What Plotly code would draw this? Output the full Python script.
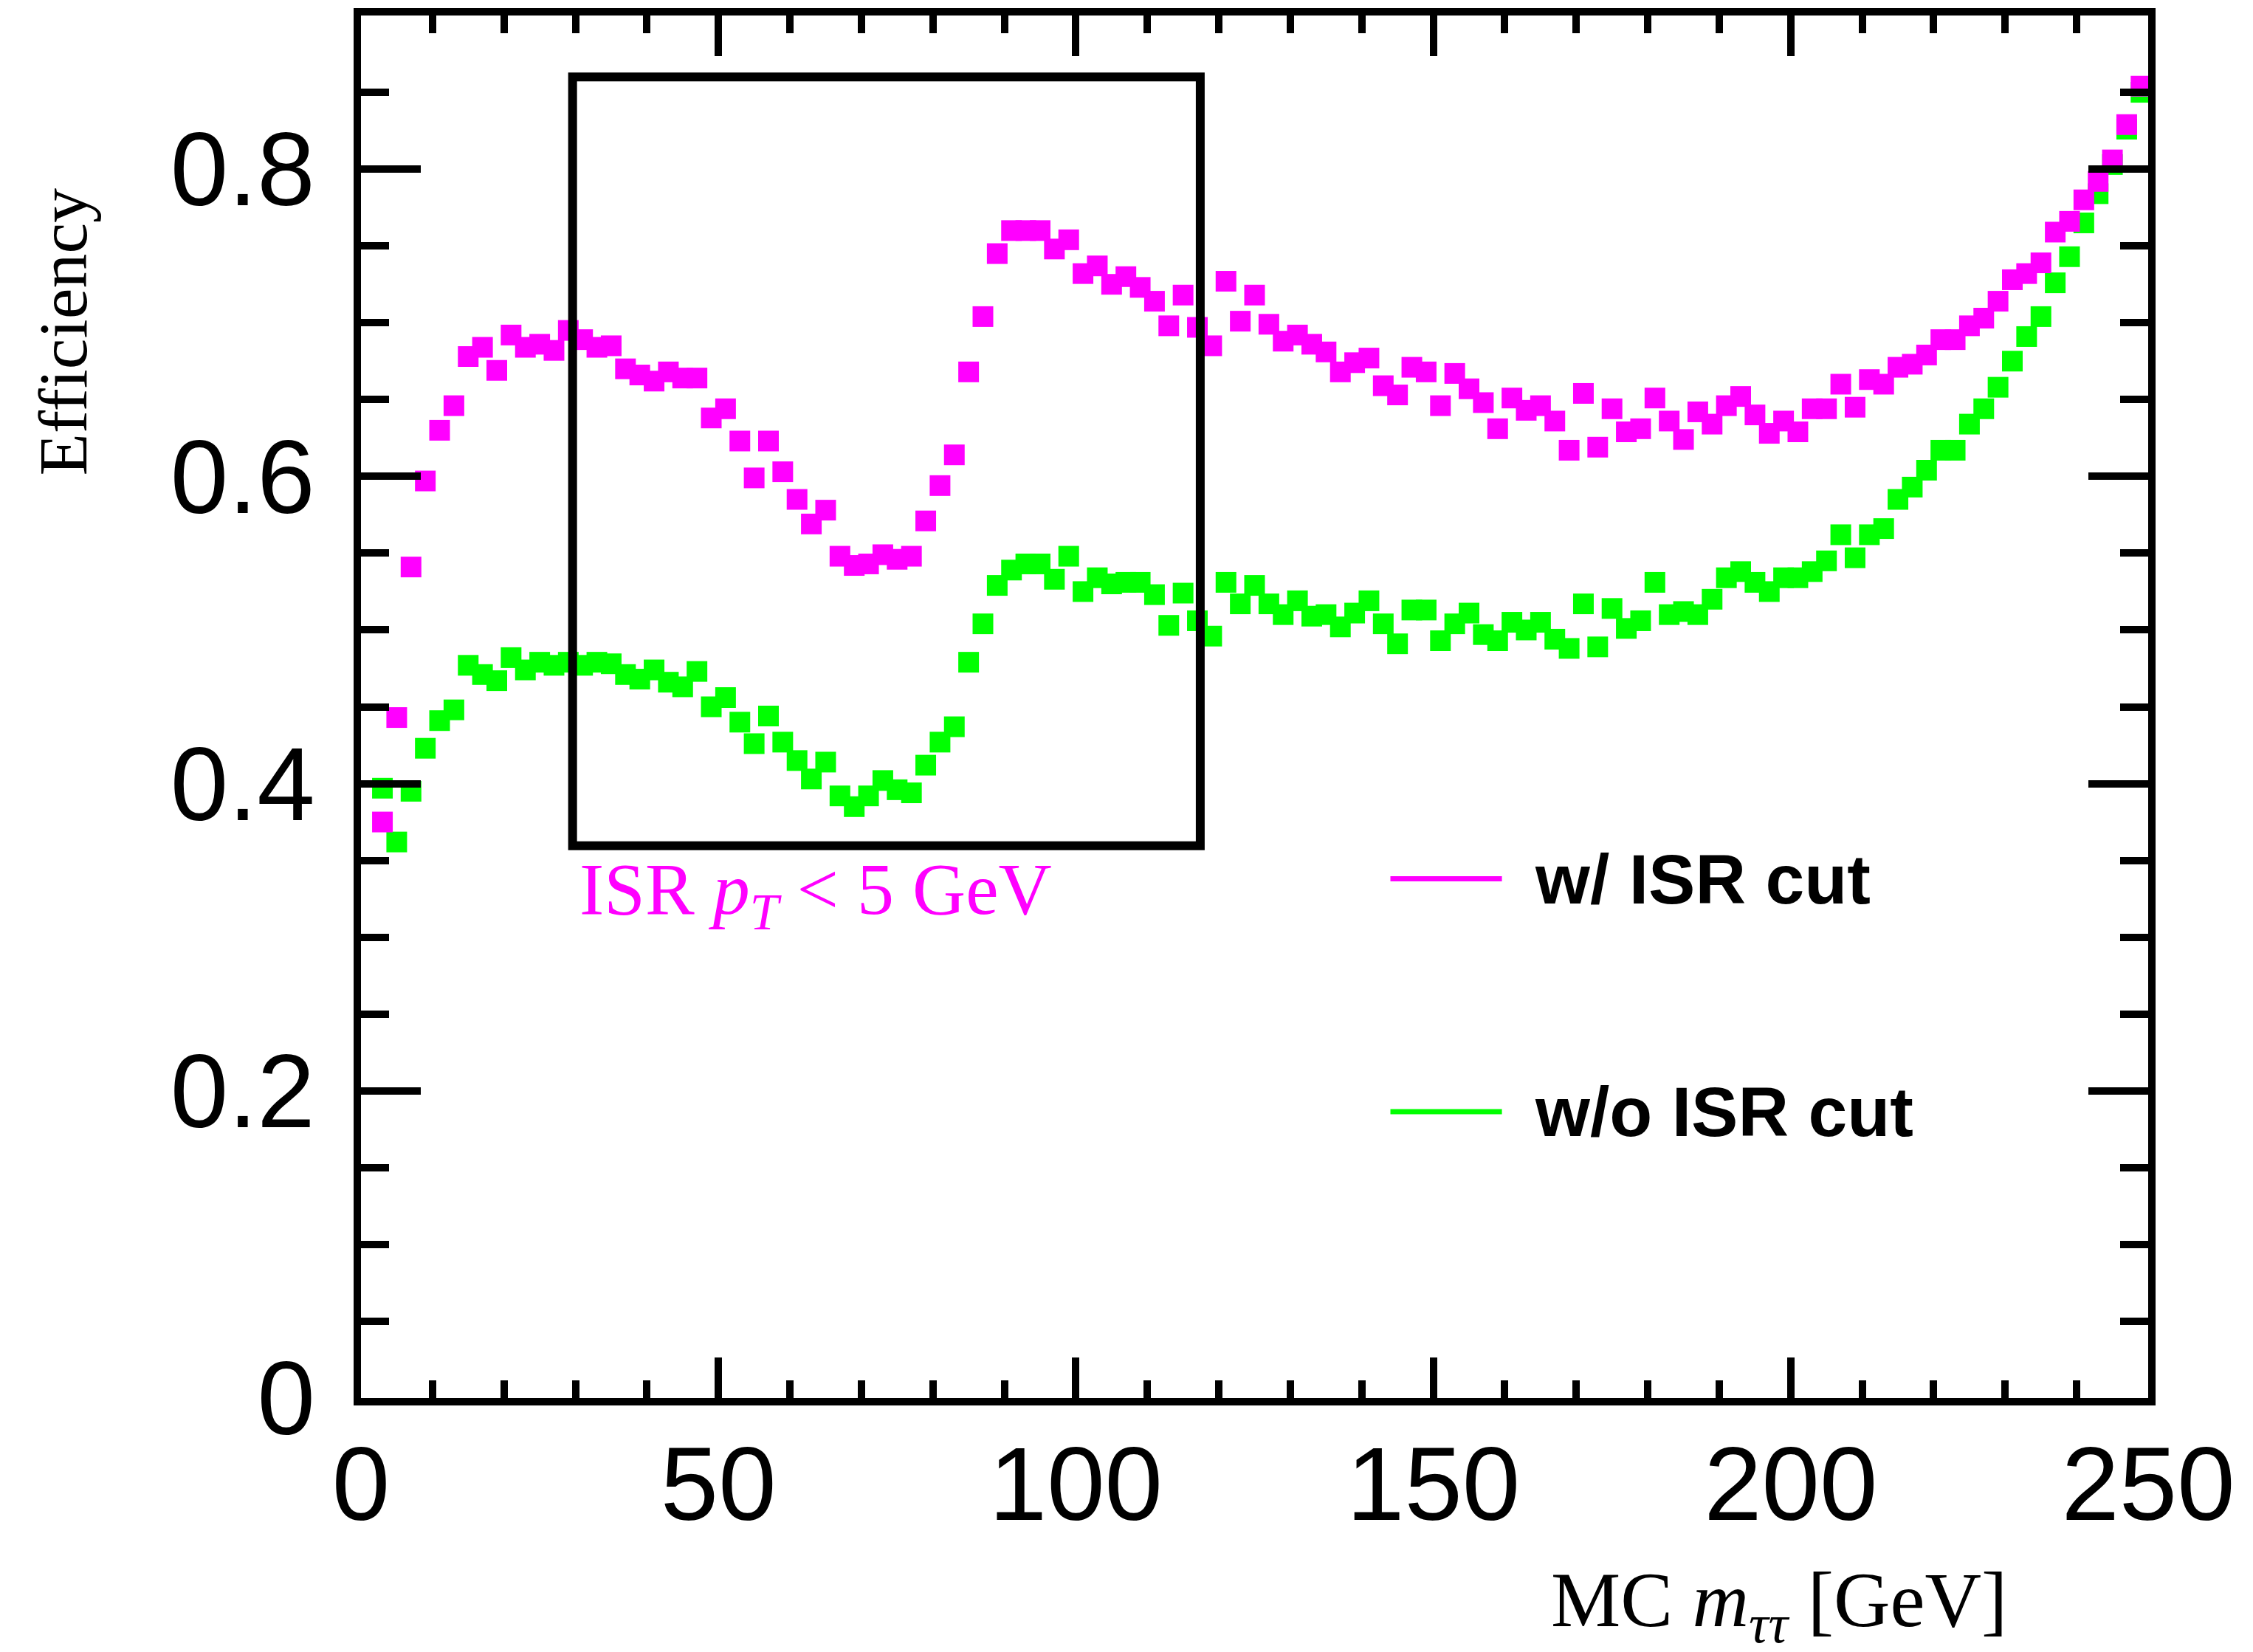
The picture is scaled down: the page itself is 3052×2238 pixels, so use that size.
import plotly.graph_objects as go

# Bin centres (2 GeV bins) of the MC m_tautau distribution
mass = list(range(3, 251, 2))

eff_with_isr_cut = [
    0.375, 0.443, 0.541, 0.597, 0.630, 0.646, 0.678, 0.684, 0.669, 0.692,
    0.684, 0.686, 0.682, 0.695, 0.689, 0.684, 0.685, 0.670, 0.666, 0.662,
    0.668, 0.664, 0.664, 0.638, 0.644, 0.623, 0.599, 0.623, 0.603, 0.585,
    0.569, 0.578, 0.548, 0.542, 0.543, 0.549, 0.546, 0.548, 0.571, 0.594,
    0.614, 0.668, 0.704, 0.745, 0.760, 0.760, 0.760, 0.748, 0.754, 0.732,
    0.737, 0.725, 0.730, 0.723, 0.714, 0.698, 0.718, 0.697, 0.685, 0.727,
    0.701, 0.718, 0.699, 0.688, 0.692, 0.686, 0.681, 0.668, 0.674, 0.677,
    0.659, 0.653, 0.671, 0.668, 0.646, 0.667, 0.657, 0.648, 0.631, 0.651,
    0.643, 0.646, 0.636, 0.617, 0.654, 0.619, 0.644, 0.629, 0.631, 0.651,
    0.636, 0.624, 0.642, 0.634, 0.646, 0.652, 0.640, 0.628, 0.636, 0.629,
    0.644, 0.644, 0.660, 0.645, 0.663, 0.660, 0.671, 0.673, 0.679, 0.689,
    0.689, 0.698, 0.703, 0.714, 0.728, 0.732, 0.739, 0.759, 0.766, 0.780,
    0.792, 0.806, 0.829, 0.854,
]

eff_without_isr_cut = [
    0.397, 0.362, 0.395, 0.423, 0.441, 0.448, 0.477, 0.471, 0.467, 0.482,
    0.474, 0.479, 0.477, 0.479, 0.477, 0.479, 0.478, 0.471, 0.468, 0.474,
    0.466, 0.463, 0.473, 0.450, 0.456, 0.440, 0.426, 0.444, 0.427, 0.415,
    0.403, 0.414, 0.392, 0.385, 0.392, 0.402, 0.396, 0.394, 0.412, 0.427,
    0.437, 0.479, 0.504, 0.529, 0.539, 0.543, 0.543, 0.533, 0.548, 0.525,
    0.534, 0.530, 0.531, 0.531, 0.523, 0.503, 0.524, 0.506, 0.496, 0.531,
    0.517, 0.529, 0.517, 0.510, 0.519, 0.509, 0.510, 0.502, 0.511, 0.519,
    0.504, 0.491, 0.513, 0.513, 0.493, 0.504, 0.511, 0.497, 0.493, 0.505,
    0.500, 0.505, 0.494, 0.488, 0.517, 0.489, 0.514, 0.501, 0.506, 0.531,
    0.510, 0.512, 0.510, 0.520, 0.534, 0.538, 0.531, 0.525, 0.534, 0.534,
    0.538, 0.545, 0.562, 0.547, 0.562, 0.566, 0.585, 0.593, 0.604, 0.617,
    0.617, 0.634, 0.644, 0.658, 0.675, 0.691, 0.704, 0.726, 0.743, 0.765,
    0.784, 0.803, 0.826, 0.850,
]

x_tick_vals = [0, 50, 100, 150, 200, 250]
y_tick_vals = [0, 0.2, 0.4, 0.6, 0.8]
y_tick_text = ["0", "0.2", "0.4", "0.6", "0.8"]

MAGENTA = "#FF00FF"
GREEN = "#00FF00"
SANS = "Liberation Sans, Arial, Helvetica, sans-serif"
SERIF = "Liberation Serif, Times New Roman, serif"

fig = go.Figure()
fig.add_trace(go.Scatter(
    x=mass, y=eff_without_isr_cut, mode="markers", name="w/o ISR cut",
    marker=dict(symbol="square", size=28, color=GREEN, line=dict(width=0)),
    showlegend=False,
))
fig.add_trace(go.Scatter(
    x=mass, y=eff_with_isr_cut, mode="markers", name="w/ ISR cut",
    marker=dict(symbol="square", size=28, color=MAGENTA, line=dict(width=0)),
    showlegend=False,
))

axis_common = dict(
    showline=True, linewidth=10, linecolor="black", mirror="allticks",
    ticks="inside", tickcolor="black", tickwidth=10,
    showgrid=False, zeroline=False,
    tickfont=dict(family=SANS, size=141, color="black"),
)

fig.update_xaxes(
    range=[0, 250], tickvals=x_tick_vals, ticklen=55,
    minor=dict(dtick=10, ticklen=24, tickwidth=10, ticks="inside",
               tickcolor="black", showgrid=False),
    ticklabelstandoff=-14,
    **axis_common,
)
fig.update_yaxes(
    range=[0, 0.9], tickvals=y_tick_vals, ticktext=y_tick_text, ticklen=81,
    minor=dict(dtick=0.05, ticklen=38, tickwidth=10, ticks="inside",
               tickcolor="black", showgrid=False),
    ticklabelstandoff=24,
    **axis_common,
)

# Box marking the ISR region
fig.add_shape(type="rect", xref="x", yref="y", x0=29.6, x1=117.4, y0=0.3595, y1=0.860,
              line=dict(color="black", width=12), layer="above")

annotations = [
    dict(text="ISR <i>p</i><sub><i>T</i></sub> &lt; 5 GeV", x=30.4, y=0.328,
         xref="x", yref="y", xanchor="left", yanchor="middle", showarrow=False,
         font=dict(family=SERIF, size=100, color=MAGENTA)),
    dict(text="<b>w/ ISR cut</b>", x=164.0, y=0.338, xref="x", yref="y",
         xanchor="left", yanchor="middle", showarrow=False,
         font=dict(family=SANS, size=95, color="black")),
    dict(text="<b>w/o ISR cut</b>", x=164.0, y=0.1864, xref="x", yref="y",
         xanchor="left", yanchor="middle", showarrow=False,
         font=dict(family=SANS, size=95, color="black")),
    dict(text="Efficiency", x=-0.167, y=0.771, xref="paper", yref="paper",
         xanchor="center", yanchor="middle", textangle=-90, showarrow=False,
         font=dict(family=SERIF, size=94, color="black")),
    dict(text="MC <i>m</i><sub><i>ττ</i></sub> [GeV]", x=0.922, y=-0.150,
         xref="paper", yref="paper", xanchor="right", yanchor="middle",
         showarrow=False, font=dict(family=SERIF, size=106, color="black")),
]
fig.update_layout(annotations=annotations)

# Legend line samples
fig.add_shape(type="line", xref="x", yref="y", x0=144, x1=159.6, y0=0.338, y1=0.338,
              line=dict(color=MAGENTA, width=7))
fig.add_shape(type="line", xref="x", yref="y", x0=144, x1=159.6, y0=0.1864, y1=0.1864,
              line=dict(color=GREEN, width=7))

fig.update_layout(
    width=3052, height=2238,
    margin=dict(l=481, r=150, t=3, b=352, pad=0),
    paper_bgcolor="white", plot_bgcolor="white",
    showlegend=False,
)

fig.write_html("out.html")
